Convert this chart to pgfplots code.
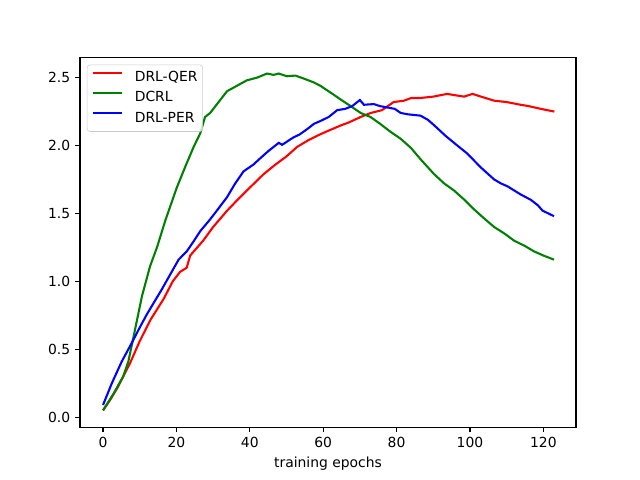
\documentclass[border=0pt]{standalone}
\usepackage{pgfplots}
\pgfplotsset{compat=1.18}
\usepackage{fontspec}
\setmainfont{DejaVu Sans}
\begin{document}
\begin{tikzpicture}
\path[use as bounding box] (-57.6pt,-38.0pt) rectangle (403.2pt,307.6pt);
\begin{axis}[
  at={(0,0)}, anchor=south west,
  scale only axis, width=357.12pt, height=266.1pt,
  xmin=-6.28, xmax=128.9, ymin=-0.074, ymax=2.647,
  xtick={0,20,40,60,80,100,120},
  ytick={0,0.5,1.0,1.5,2.0,2.5},
  yticklabel style={/pgf/number format/.cd, fixed, fixed zerofill, precision=1},
  /pgf/number format/assume math mode=true,
  tick align=outside, tick pos=left, major tick length=3.5pt,
  tick style={black, line width=0.8pt},
  axis line style={line width=0.8pt},
  xlabel={training epochs},
  font=\fontsize{10}{12}\selectfont,
  legend cell align=left,
  legend style={at={(0,1)}, anchor=north west, xshift=5pt, yshift=-5pt,
    draw=black!20, rounded corners=2pt, fill=white, fill opacity=0.8, text opacity=1,
    nodes={inner sep=0pt, text height=7.4pt, text depth=2.2pt},
    row sep=5pt, column sep=8.6pt, inner xsep=3.6pt, inner ysep=4.6pt},
  legend image code/.code={\draw[#1] (0pt,3.65pt) -- (20.6pt,3.65pt);},
]
\addplot[red, line width=1.5pt] coordinates {
(0,0.05)(2,0.13)(4,0.22)(7.4,0.40)(10,0.56)(13,0.72)(16.5,0.87)(19,1.00)(21,1.07)(22.8,1.10)
(23.75,1.19)(27.3,1.30)(30,1.40)(33.8,1.52)(37,1.61)(40,1.69)(43.8,1.79)(47,1.86)(50,1.92)
(52.9,1.99)(56,2.04)(59,2.08)(61.5,2.11)(65,2.15)(67,2.17)(70.2,2.21)(73,2.24)(76,2.26)
(79.2,2.32)(82,2.33)(84,2.35)(86.5,2.35)(90,2.36)(93.8,2.38)(96,2.37)(98.4,2.36)(100.7,2.38)
(103,2.36)(106.6,2.33)(110,2.32)(113.8,2.30)(116,2.29)(119.3,2.27)(123,2.25)
};
\addlegendentry{DRL-QER}
\addplot[green!50!black, line width=1.5pt] coordinates {
(0,0.05)(2.8,0.17)(5.5,0.30)(6.9,0.41)(8.3,0.59)(10.6,0.89)(12.8,1.11)(14.7,1.25)(17,1.45)
(20.1,1.69)(22.5,1.85)(24.7,1.99)(26.5,2.09)(27.8,2.21)(29.2,2.24)(31.5,2.32)(33.8,2.40)
(36.5,2.44)(39.2,2.48)(42,2.50)(44.7,2.53)(46.5,2.52)(47.9,2.53)(50.1,2.51)(52.4,2.515)
(55,2.49)(57.4,2.465)(59.2,2.44)(62,2.39)(64.7,2.34)(67.5,2.29)(70.2,2.24)(72.9,2.21)
(75.5,2.16)(78.4,2.10)(81.1,2.05)(84,1.98)(86.5,1.90)(90.2,1.79)(93,1.72)(95.6,1.67)
(98.5,1.60)(101.1,1.53)(104,1.46)(106.6,1.40)(109.5,1.35)(112,1.30)(115,1.26)(117.5,1.22)
(120,1.19)(122.9,1.16)
};
\addlegendentry{DCRL}
\addplot[blue, line width=1.5pt] coordinates {
(0,0.09)(2.4,0.25)(5.1,0.41)(7.8,0.545)(10,0.66)(11.9,0.755)(14,0.85)(16,0.94)(18.5,1.06)
(20.6,1.16)(22.8,1.22)(24.7,1.295)(26.5,1.37)(29,1.45)(31,1.52)(33.8,1.62)(36,1.72)
(38.3,1.81)(41,1.86)(43,1.91)(45.1,1.96)(47.9,2.02)(48.8,2.005)(51.9,2.06)(53.5,2.08)
(55.6,2.12)(57.5,2.16)(59.2,2.18)(61.5,2.21)(63.8,2.26)(66,2.27)(67.9,2.29)(70,2.335)
(71.1,2.30)(73.8,2.305)(75.5,2.29)(77.5,2.28)(79.5,2.27)(81.1,2.24)(83,2.23)(86.5,2.22)
(88.5,2.19)(90.2,2.15)(93.4,2.07)(96.1,2.01)(99.3,1.94)(102.9,1.84)(106.6,1.75)(108.5,1.72)
(110.2,1.70)(113.8,1.64)(116.6,1.60)(118.5,1.56)(119.8,1.52)(122.9,1.48)
};
\addlegendentry{DRL-PER}
\end{axis}
\end{tikzpicture}
\end{document}
